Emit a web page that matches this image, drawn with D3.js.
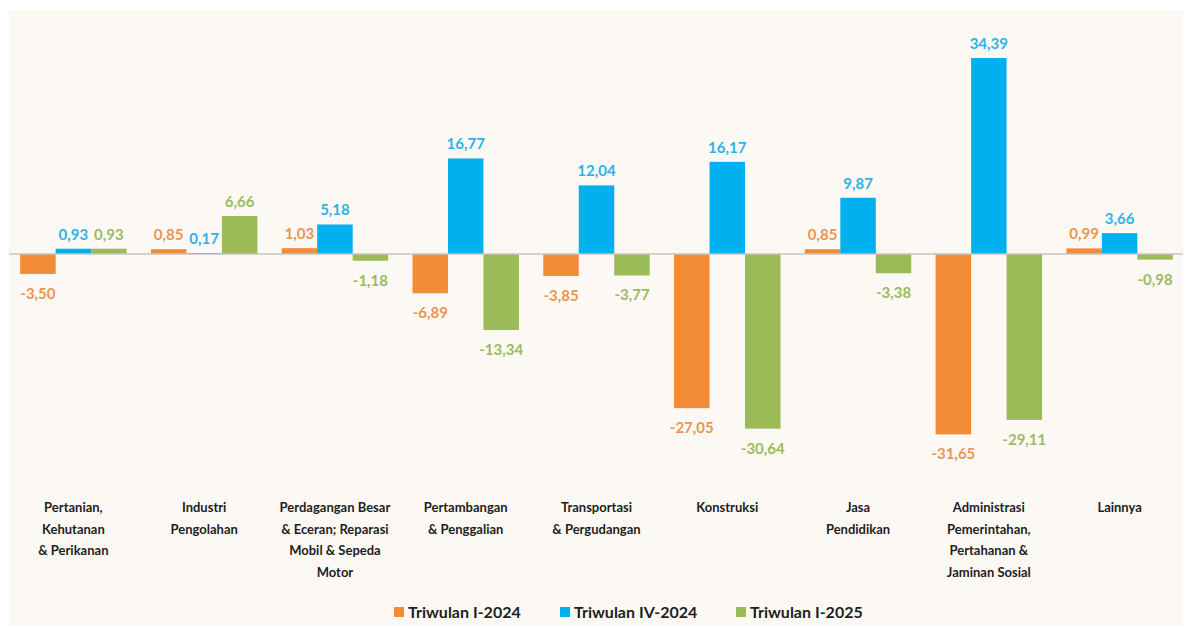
<!DOCTYPE html>
<html>
<head>
<meta charset="utf-8">
<style>
  body { margin: 0; background: #fff; }
  svg text { font-family: Lato, "Open Sans", sans-serif; font-weight: 700; }
</style>
</head>
<body>
<div id="chart"></div>
<script src="https://d3js.org/d3.v7.min.js"></script>
<script>

// categories (each label split into lines)
var categories = [
  ["Pertanian,", "Kehutanan", "& Perikanan"],
  ["Industri", "Pengolahan"],
  ["Perdagangan Besar", "& Eceran; Reparasi", "Mobil & Sepeda", "Motor"],
  ["Pertambangan", "& Penggalian"],
  ["Transportasi", "& Pergudangan"],
  ["Konstruksi"],
  ["Jasa", "Pendidikan"],
  ["Administrasi", "Pemerintahan,", "Pertahanan &", "Jaminan Sosial"],
  ["Lainnya"]
];

var seriesNames = ["Triwulan I-2024", "Triwulan IV-2024", "Triwulan I-2025"];

var q1_2024 = [-3.50, 0.85, 1.03, -6.89, -3.85, -27.05, 0.85, -31.65, 0.99];
var q4_2024 = [0.93, 0.17, 5.18, 16.77, 12.04, 16.17, 9.87, 34.39, 3.66];
var q1_2025 = [0.93, 6.66, -1.18, -13.34, -3.77, -30.64, -3.38, -29.11, -0.98];

var barColors = ["#f28c36", "#00b0ef", "#9bbb59"];
var labelColors = ["#ec9450", "#2fb2e6", "#9bba62"];

var W = 1187, H = 631;

var svg = d3.select("#chart").append("svg")
    .attr("width", W)
    .attr("height", H);

// panel background
svg.append("rect")
    .attr("x", 9).attr("y", 10)
    .attr("width", 1174).attr("height", 616)
    .attr("fill", "#fcf9f4");

var x = d3.scaleBand()
    .domain(d3.range(categories.length))
    .range([8, 1185])
    .paddingInner(0.186)
    .paddingOuter(0.093);

var xs = d3.scaleBand()
    .domain(d3.range(3))
    .range([0, x.bandwidth()]);

var y = d3.scaleLinear()
    .domain([-31.65, 34.39])
    .range([434.4, 58]);

var data = [];
categories.forEach(function(c, i) {
  [q1_2024, q4_2024, q1_2025].forEach(function(s, j) {
    data.push({cat: i, s: j, v: s[i]});
  });
});

// decimal comma, plain hyphen for minus
var fmt = function(v) { return (v < 0 ? "-" : "") + Math.abs(v).toFixed(2).replace(".", ","); };

svg.selectAll("rect.bar")
  .data(data)
  .enter()
  .append("rect")
    .attr("class", "bar")
    .attr("x", function(d) { return x(d.cat) + xs(d.s); })
    .attr("y", function(d) { return y(Math.max(0, d.v)); })
    .attr("width", xs.bandwidth())
    .attr("height", function(d) { return Math.abs(y(d.v) - y(0)); })
    .attr("fill", function(d) { return barColors[d.s]; });

// zero line
svg.append("line")
    .attr("x1", 9).attr("x2", 1183)
    .attr("y1", y(0)).attr("y2", y(0))
    .attr("stroke", "#c9c5c1")
    .attr("stroke-width", 1.5);

// value labels
svg.selectAll("text.val")
  .data(data)
  .enter()
  .append("text")
    .attr("class", "val")
    .attr("x", function(d) { return x(d.cat) + xs(d.s) + xs.bandwidth() / 2; })
    .attr("y", function(d) { return d.v >= 0 ? y(d.v) - 9 : y(d.v) + 25; })
    .attr("text-anchor", "middle")
    .attr("font-size", 15)
    .attr("fill", function(d) { return labelColors[d.s]; })
    .text(function(d) { return fmt(d.v); });

// category labels
var cl = svg.selectAll("text.cat")
  .data(categories)
  .enter()
  .append("text")
    .attr("class", "cat")
    .attr("text-anchor", "middle")
    .attr("font-size", 13)
    .attr("fill", "#1e1e1e");
cl.selectAll("tspan")
  .data(function(d, i) { return d.map(function(t) { return {t: t, i: i}; }); })
  .enter()
  .append("tspan")
    .attr("x", function(d) { return x(d.i) + x.bandwidth() / 2; })
    .attr("y", function(d, k) { return 512 + k * 21.5; })
    .text(function(d) { return d.t; });

// legend
var legendX = [394, 560, 736];
var lg = svg.selectAll("g.leg")
  .data(seriesNames)
  .enter()
  .append("g")
    .attr("class", "leg")
    .attr("transform", function(d, i) { return "translate(" + legendX[i] + ",607)"; });
lg.append("rect")
    .attr("width", 10).attr("height", 10)
    .attr("fill", function(d, i) { return barColors[i]; });
lg.append("text")
    .attr("x", 14).attr("y", 10.5)
    .attr("font-size", 16)
    .attr("fill", "#1e1e1e")
    .text(function(d) { return d; });

</script>
</body>
</html>
